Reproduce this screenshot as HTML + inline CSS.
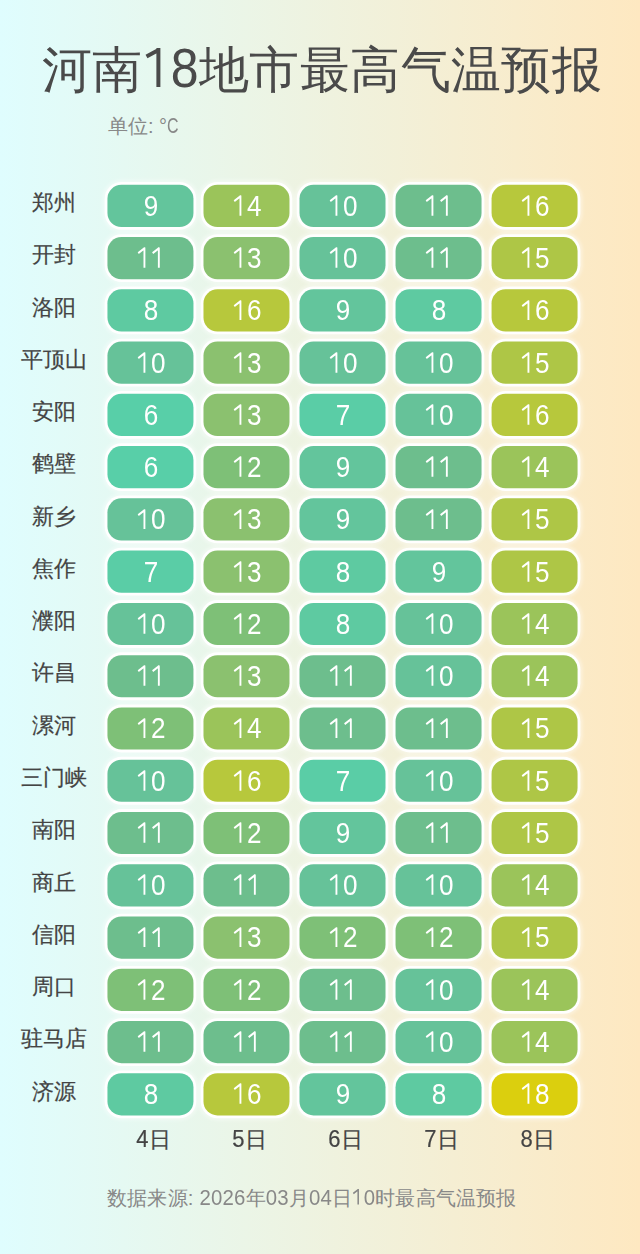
<!DOCTYPE html><html><head><meta charset="utf-8"><style>
html,body{margin:0;padding:0}
body{width:640px;height:1254px;position:relative;overflow:hidden;font-family:"Liberation Sans",sans-serif;
background:linear-gradient(90deg,#dffdfe 0%,#fee8c1 100%)}
.t{position:absolute;white-space:nowrap}
.title{left:2px;width:640px;text-align:center;top:40px;font-size:50px;letter-spacing:0.4px;line-height:60px;color:#4a4a4a}
.sub{left:108px;top:114px;font-size:20px;line-height:24px;color:#888}
.lab{position:absolute;left:4px;width:100px;text-align:center;font-size:21.5px;line-height:24px;color:#444;-webkit-text-stroke:0.2px #444}
.c{position:absolute;box-sizing:border-box;color:#fff;text-align:center;font-size:29px;padding-left:1px}
.n{display:inline-block;transform:scaleX(0.9);transform-origin:50% 50%}
.L{display:inline-block;line-height:1.117em;transform-origin:50% 0.905em}
.one{vertical-align:baseline;display:inline-block}
.day{position:absolute;width:96px;text-align:center;font-size:22px;line-height:24px;color:#444;-webkit-text-stroke:0.2px #444;top:1128px;padding-left:3px}
.foot{left:107px;top:1186px;font-size:20.4px;letter-spacing:0.18px;line-height:24px;color:#888}
</style></head><body>

<svg width="640" height="1254" style="position:absolute;left:0;top:0"><defs><filter id="bl" x="0" y="0" width="640" height="1254" filterUnits="userSpaceOnUse"><feGaussianBlur stdDeviation="1.6"/></filter></defs>
<g filter="url(#bl)" fill="#fff" fill-opacity=".35"><rect x="102.45" y="179.80" width="96.00" height="52.20" rx="19.00"/><rect x="198.48" y="179.80" width="96.00" height="52.20" rx="19.00"/><rect x="294.51" y="179.80" width="96.00" height="52.20" rx="19.00"/><rect x="390.54" y="179.80" width="96.00" height="52.20" rx="19.00"/><rect x="486.57" y="179.80" width="96.00" height="52.20" rx="19.00"/><rect x="102.45" y="232.06" width="96.00" height="52.20" rx="19.00"/><rect x="198.48" y="232.06" width="96.00" height="52.20" rx="19.00"/><rect x="294.51" y="232.06" width="96.00" height="52.20" rx="19.00"/><rect x="390.54" y="232.06" width="96.00" height="52.20" rx="19.00"/><rect x="486.57" y="232.06" width="96.00" height="52.20" rx="19.00"/><rect x="102.45" y="284.32" width="96.00" height="52.20" rx="19.00"/><rect x="198.48" y="284.32" width="96.00" height="52.20" rx="19.00"/><rect x="294.51" y="284.32" width="96.00" height="52.20" rx="19.00"/><rect x="390.54" y="284.32" width="96.00" height="52.20" rx="19.00"/><rect x="486.57" y="284.32" width="96.00" height="52.20" rx="19.00"/><rect x="102.45" y="336.58" width="96.00" height="52.20" rx="19.00"/><rect x="198.48" y="336.58" width="96.00" height="52.20" rx="19.00"/><rect x="294.51" y="336.58" width="96.00" height="52.20" rx="19.00"/><rect x="390.54" y="336.58" width="96.00" height="52.20" rx="19.00"/><rect x="486.57" y="336.58" width="96.00" height="52.20" rx="19.00"/><rect x="102.45" y="388.84" width="96.00" height="52.20" rx="19.00"/><rect x="198.48" y="388.84" width="96.00" height="52.20" rx="19.00"/><rect x="294.51" y="388.84" width="96.00" height="52.20" rx="19.00"/><rect x="390.54" y="388.84" width="96.00" height="52.20" rx="19.00"/><rect x="486.57" y="388.84" width="96.00" height="52.20" rx="19.00"/><rect x="102.45" y="441.10" width="96.00" height="52.20" rx="19.00"/><rect x="198.48" y="441.10" width="96.00" height="52.20" rx="19.00"/><rect x="294.51" y="441.10" width="96.00" height="52.20" rx="19.00"/><rect x="390.54" y="441.10" width="96.00" height="52.20" rx="19.00"/><rect x="486.57" y="441.10" width="96.00" height="52.20" rx="19.00"/><rect x="102.45" y="493.36" width="96.00" height="52.20" rx="19.00"/><rect x="198.48" y="493.36" width="96.00" height="52.20" rx="19.00"/><rect x="294.51" y="493.36" width="96.00" height="52.20" rx="19.00"/><rect x="390.54" y="493.36" width="96.00" height="52.20" rx="19.00"/><rect x="486.57" y="493.36" width="96.00" height="52.20" rx="19.00"/><rect x="102.45" y="545.62" width="96.00" height="52.20" rx="19.00"/><rect x="198.48" y="545.62" width="96.00" height="52.20" rx="19.00"/><rect x="294.51" y="545.62" width="96.00" height="52.20" rx="19.00"/><rect x="390.54" y="545.62" width="96.00" height="52.20" rx="19.00"/><rect x="486.57" y="545.62" width="96.00" height="52.20" rx="19.00"/><rect x="102.45" y="597.88" width="96.00" height="52.20" rx="19.00"/><rect x="198.48" y="597.88" width="96.00" height="52.20" rx="19.00"/><rect x="294.51" y="597.88" width="96.00" height="52.20" rx="19.00"/><rect x="390.54" y="597.88" width="96.00" height="52.20" rx="19.00"/><rect x="486.57" y="597.88" width="96.00" height="52.20" rx="19.00"/><rect x="102.45" y="650.14" width="96.00" height="52.20" rx="19.00"/><rect x="198.48" y="650.14" width="96.00" height="52.20" rx="19.00"/><rect x="294.51" y="650.14" width="96.00" height="52.20" rx="19.00"/><rect x="390.54" y="650.14" width="96.00" height="52.20" rx="19.00"/><rect x="486.57" y="650.14" width="96.00" height="52.20" rx="19.00"/><rect x="102.45" y="702.40" width="96.00" height="52.20" rx="19.00"/><rect x="198.48" y="702.40" width="96.00" height="52.20" rx="19.00"/><rect x="294.51" y="702.40" width="96.00" height="52.20" rx="19.00"/><rect x="390.54" y="702.40" width="96.00" height="52.20" rx="19.00"/><rect x="486.57" y="702.40" width="96.00" height="52.20" rx="19.00"/><rect x="102.45" y="754.66" width="96.00" height="52.20" rx="19.00"/><rect x="198.48" y="754.66" width="96.00" height="52.20" rx="19.00"/><rect x="294.51" y="754.66" width="96.00" height="52.20" rx="19.00"/><rect x="390.54" y="754.66" width="96.00" height="52.20" rx="19.00"/><rect x="486.57" y="754.66" width="96.00" height="52.20" rx="19.00"/><rect x="102.45" y="806.92" width="96.00" height="52.20" rx="19.00"/><rect x="198.48" y="806.92" width="96.00" height="52.20" rx="19.00"/><rect x="294.51" y="806.92" width="96.00" height="52.20" rx="19.00"/><rect x="390.54" y="806.92" width="96.00" height="52.20" rx="19.00"/><rect x="486.57" y="806.92" width="96.00" height="52.20" rx="19.00"/><rect x="102.45" y="859.18" width="96.00" height="52.20" rx="19.00"/><rect x="198.48" y="859.18" width="96.00" height="52.20" rx="19.00"/><rect x="294.51" y="859.18" width="96.00" height="52.20" rx="19.00"/><rect x="390.54" y="859.18" width="96.00" height="52.20" rx="19.00"/><rect x="486.57" y="859.18" width="96.00" height="52.20" rx="19.00"/><rect x="102.45" y="911.44" width="96.00" height="52.20" rx="19.00"/><rect x="198.48" y="911.44" width="96.00" height="52.20" rx="19.00"/><rect x="294.51" y="911.44" width="96.00" height="52.20" rx="19.00"/><rect x="390.54" y="911.44" width="96.00" height="52.20" rx="19.00"/><rect x="486.57" y="911.44" width="96.00" height="52.20" rx="19.00"/><rect x="102.45" y="963.70" width="96.00" height="52.20" rx="19.00"/><rect x="198.48" y="963.70" width="96.00" height="52.20" rx="19.00"/><rect x="294.51" y="963.70" width="96.00" height="52.20" rx="19.00"/><rect x="390.54" y="963.70" width="96.00" height="52.20" rx="19.00"/><rect x="486.57" y="963.70" width="96.00" height="52.20" rx="19.00"/><rect x="102.45" y="1015.96" width="96.00" height="52.20" rx="19.00"/><rect x="198.48" y="1015.96" width="96.00" height="52.20" rx="19.00"/><rect x="294.51" y="1015.96" width="96.00" height="52.20" rx="19.00"/><rect x="390.54" y="1015.96" width="96.00" height="52.20" rx="19.00"/><rect x="486.57" y="1015.96" width="96.00" height="52.20" rx="19.00"/><rect x="102.45" y="1068.22" width="96.00" height="52.20" rx="19.00"/><rect x="198.48" y="1068.22" width="96.00" height="52.20" rx="19.00"/><rect x="294.51" y="1068.22" width="96.00" height="52.20" rx="19.00"/><rect x="390.54" y="1068.22" width="96.00" height="52.20" rx="19.00"/><rect x="486.57" y="1068.22" width="96.00" height="52.20" rx="19.00"/></g>
<rect x="104.65" y="182.00" width="91.60" height="47.80" rx="16.80" fill="#fff" fill-opacity=".95"/><rect x="107.45" y="184.80" width="86.0" height="42.2" rx="14.0" fill="#63c59c"/>
<rect x="200.68" y="182.00" width="91.60" height="47.80" rx="16.80" fill="#fff" fill-opacity=".95"/><rect x="203.48" y="184.80" width="86.0" height="42.2" rx="14.0" fill="#9bc45a"/>
<rect x="296.71" y="182.00" width="91.60" height="47.80" rx="16.80" fill="#fff" fill-opacity=".95"/><rect x="299.51" y="184.80" width="86.0" height="42.2" rx="14.0" fill="#66c299"/>
<rect x="392.74" y="182.00" width="91.60" height="47.80" rx="16.80" fill="#fff" fill-opacity=".95"/><rect x="395.54" y="184.80" width="86.0" height="42.2" rx="14.0" fill="#6dbe8d"/>
<rect x="488.77" y="182.00" width="91.60" height="47.80" rx="16.80" fill="#fff" fill-opacity=".95"/><rect x="491.57" y="184.80" width="86.0" height="42.2" rx="14.0" fill="#b7c83c"/>
<rect x="104.65" y="234.26" width="91.60" height="47.80" rx="16.80" fill="#fff" fill-opacity=".95"/><rect x="107.45" y="237.06" width="86.0" height="42.2" rx="14.0" fill="#6dbe8d"/>
<rect x="200.68" y="234.26" width="91.60" height="47.80" rx="16.80" fill="#fff" fill-opacity=".95"/><rect x="203.48" y="237.06" width="86.0" height="42.2" rx="14.0" fill="#8bc16f"/>
<rect x="296.71" y="234.26" width="91.60" height="47.80" rx="16.80" fill="#fff" fill-opacity=".95"/><rect x="299.51" y="237.06" width="86.0" height="42.2" rx="14.0" fill="#66c299"/>
<rect x="392.74" y="234.26" width="91.60" height="47.80" rx="16.80" fill="#fff" fill-opacity=".95"/><rect x="395.54" y="237.06" width="86.0" height="42.2" rx="14.0" fill="#6dbe8d"/>
<rect x="488.77" y="234.26" width="91.60" height="47.80" rx="16.80" fill="#fff" fill-opacity=".95"/><rect x="491.57" y="237.06" width="86.0" height="42.2" rx="14.0" fill="#aec646"/>
<rect x="104.65" y="286.52" width="91.60" height="47.80" rx="16.80" fill="#fff" fill-opacity=".95"/><rect x="107.45" y="289.32" width="86.0" height="42.2" rx="14.0" fill="#5ecaa1"/>
<rect x="200.68" y="286.52" width="91.60" height="47.80" rx="16.80" fill="#fff" fill-opacity=".95"/><rect x="203.48" y="289.32" width="86.0" height="42.2" rx="14.0" fill="#b7c83c"/>
<rect x="296.71" y="286.52" width="91.60" height="47.80" rx="16.80" fill="#fff" fill-opacity=".95"/><rect x="299.51" y="289.32" width="86.0" height="42.2" rx="14.0" fill="#63c59c"/>
<rect x="392.74" y="286.52" width="91.60" height="47.80" rx="16.80" fill="#fff" fill-opacity=".95"/><rect x="395.54" y="289.32" width="86.0" height="42.2" rx="14.0" fill="#5ecaa1"/>
<rect x="488.77" y="286.52" width="91.60" height="47.80" rx="16.80" fill="#fff" fill-opacity=".95"/><rect x="491.57" y="289.32" width="86.0" height="42.2" rx="14.0" fill="#b7c83c"/>
<rect x="104.65" y="338.78" width="91.60" height="47.80" rx="16.80" fill="#fff" fill-opacity=".95"/><rect x="107.45" y="341.58" width="86.0" height="42.2" rx="14.0" fill="#66c299"/>
<rect x="200.68" y="338.78" width="91.60" height="47.80" rx="16.80" fill="#fff" fill-opacity=".95"/><rect x="203.48" y="341.58" width="86.0" height="42.2" rx="14.0" fill="#8bc16f"/>
<rect x="296.71" y="338.78" width="91.60" height="47.80" rx="16.80" fill="#fff" fill-opacity=".95"/><rect x="299.51" y="341.58" width="86.0" height="42.2" rx="14.0" fill="#66c299"/>
<rect x="392.74" y="338.78" width="91.60" height="47.80" rx="16.80" fill="#fff" fill-opacity=".95"/><rect x="395.54" y="341.58" width="86.0" height="42.2" rx="14.0" fill="#66c299"/>
<rect x="488.77" y="338.78" width="91.60" height="47.80" rx="16.80" fill="#fff" fill-opacity=".95"/><rect x="491.57" y="341.58" width="86.0" height="42.2" rx="14.0" fill="#aec646"/>
<rect x="104.65" y="391.04" width="91.60" height="47.80" rx="16.80" fill="#fff" fill-opacity=".95"/><rect x="107.45" y="393.84" width="86.0" height="42.2" rx="14.0" fill="#58cfa8"/>
<rect x="200.68" y="391.04" width="91.60" height="47.80" rx="16.80" fill="#fff" fill-opacity=".95"/><rect x="203.48" y="393.84" width="86.0" height="42.2" rx="14.0" fill="#8bc16f"/>
<rect x="296.71" y="391.04" width="91.60" height="47.80" rx="16.80" fill="#fff" fill-opacity=".95"/><rect x="299.51" y="393.84" width="86.0" height="42.2" rx="14.0" fill="#5acda6"/>
<rect x="392.74" y="391.04" width="91.60" height="47.80" rx="16.80" fill="#fff" fill-opacity=".95"/><rect x="395.54" y="393.84" width="86.0" height="42.2" rx="14.0" fill="#66c299"/>
<rect x="488.77" y="391.04" width="91.60" height="47.80" rx="16.80" fill="#fff" fill-opacity=".95"/><rect x="491.57" y="393.84" width="86.0" height="42.2" rx="14.0" fill="#b7c83c"/>
<rect x="104.65" y="443.30" width="91.60" height="47.80" rx="16.80" fill="#fff" fill-opacity=".95"/><rect x="107.45" y="446.10" width="86.0" height="42.2" rx="14.0" fill="#58cfa8"/>
<rect x="200.68" y="443.30" width="91.60" height="47.80" rx="16.80" fill="#fff" fill-opacity=".95"/><rect x="203.48" y="446.10" width="86.0" height="42.2" rx="14.0" fill="#7ec077"/>
<rect x="296.71" y="443.30" width="91.60" height="47.80" rx="16.80" fill="#fff" fill-opacity=".95"/><rect x="299.51" y="446.10" width="86.0" height="42.2" rx="14.0" fill="#63c59c"/>
<rect x="392.74" y="443.30" width="91.60" height="47.80" rx="16.80" fill="#fff" fill-opacity=".95"/><rect x="395.54" y="446.10" width="86.0" height="42.2" rx="14.0" fill="#6dbe8d"/>
<rect x="488.77" y="443.30" width="91.60" height="47.80" rx="16.80" fill="#fff" fill-opacity=".95"/><rect x="491.57" y="446.10" width="86.0" height="42.2" rx="14.0" fill="#9bc45a"/>
<rect x="104.65" y="495.56" width="91.60" height="47.80" rx="16.80" fill="#fff" fill-opacity=".95"/><rect x="107.45" y="498.36" width="86.0" height="42.2" rx="14.0" fill="#66c299"/>
<rect x="200.68" y="495.56" width="91.60" height="47.80" rx="16.80" fill="#fff" fill-opacity=".95"/><rect x="203.48" y="498.36" width="86.0" height="42.2" rx="14.0" fill="#8bc16f"/>
<rect x="296.71" y="495.56" width="91.60" height="47.80" rx="16.80" fill="#fff" fill-opacity=".95"/><rect x="299.51" y="498.36" width="86.0" height="42.2" rx="14.0" fill="#63c59c"/>
<rect x="392.74" y="495.56" width="91.60" height="47.80" rx="16.80" fill="#fff" fill-opacity=".95"/><rect x="395.54" y="498.36" width="86.0" height="42.2" rx="14.0" fill="#6dbe8d"/>
<rect x="488.77" y="495.56" width="91.60" height="47.80" rx="16.80" fill="#fff" fill-opacity=".95"/><rect x="491.57" y="498.36" width="86.0" height="42.2" rx="14.0" fill="#aec646"/>
<rect x="104.65" y="547.82" width="91.60" height="47.80" rx="16.80" fill="#fff" fill-opacity=".95"/><rect x="107.45" y="550.62" width="86.0" height="42.2" rx="14.0" fill="#5acda6"/>
<rect x="200.68" y="547.82" width="91.60" height="47.80" rx="16.80" fill="#fff" fill-opacity=".95"/><rect x="203.48" y="550.62" width="86.0" height="42.2" rx="14.0" fill="#8bc16f"/>
<rect x="296.71" y="547.82" width="91.60" height="47.80" rx="16.80" fill="#fff" fill-opacity=".95"/><rect x="299.51" y="550.62" width="86.0" height="42.2" rx="14.0" fill="#5ecaa1"/>
<rect x="392.74" y="547.82" width="91.60" height="47.80" rx="16.80" fill="#fff" fill-opacity=".95"/><rect x="395.54" y="550.62" width="86.0" height="42.2" rx="14.0" fill="#63c59c"/>
<rect x="488.77" y="547.82" width="91.60" height="47.80" rx="16.80" fill="#fff" fill-opacity=".95"/><rect x="491.57" y="550.62" width="86.0" height="42.2" rx="14.0" fill="#aec646"/>
<rect x="104.65" y="600.08" width="91.60" height="47.80" rx="16.80" fill="#fff" fill-opacity=".95"/><rect x="107.45" y="602.88" width="86.0" height="42.2" rx="14.0" fill="#66c299"/>
<rect x="200.68" y="600.08" width="91.60" height="47.80" rx="16.80" fill="#fff" fill-opacity=".95"/><rect x="203.48" y="602.88" width="86.0" height="42.2" rx="14.0" fill="#7ec077"/>
<rect x="296.71" y="600.08" width="91.60" height="47.80" rx="16.80" fill="#fff" fill-opacity=".95"/><rect x="299.51" y="602.88" width="86.0" height="42.2" rx="14.0" fill="#5ecaa1"/>
<rect x="392.74" y="600.08" width="91.60" height="47.80" rx="16.80" fill="#fff" fill-opacity=".95"/><rect x="395.54" y="602.88" width="86.0" height="42.2" rx="14.0" fill="#66c299"/>
<rect x="488.77" y="600.08" width="91.60" height="47.80" rx="16.80" fill="#fff" fill-opacity=".95"/><rect x="491.57" y="602.88" width="86.0" height="42.2" rx="14.0" fill="#9bc45a"/>
<rect x="104.65" y="652.34" width="91.60" height="47.80" rx="16.80" fill="#fff" fill-opacity=".95"/><rect x="107.45" y="655.14" width="86.0" height="42.2" rx="14.0" fill="#6dbe8d"/>
<rect x="200.68" y="652.34" width="91.60" height="47.80" rx="16.80" fill="#fff" fill-opacity=".95"/><rect x="203.48" y="655.14" width="86.0" height="42.2" rx="14.0" fill="#8bc16f"/>
<rect x="296.71" y="652.34" width="91.60" height="47.80" rx="16.80" fill="#fff" fill-opacity=".95"/><rect x="299.51" y="655.14" width="86.0" height="42.2" rx="14.0" fill="#6dbe8d"/>
<rect x="392.74" y="652.34" width="91.60" height="47.80" rx="16.80" fill="#fff" fill-opacity=".95"/><rect x="395.54" y="655.14" width="86.0" height="42.2" rx="14.0" fill="#66c299"/>
<rect x="488.77" y="652.34" width="91.60" height="47.80" rx="16.80" fill="#fff" fill-opacity=".95"/><rect x="491.57" y="655.14" width="86.0" height="42.2" rx="14.0" fill="#9bc45a"/>
<rect x="104.65" y="704.60" width="91.60" height="47.80" rx="16.80" fill="#fff" fill-opacity=".95"/><rect x="107.45" y="707.40" width="86.0" height="42.2" rx="14.0" fill="#7ec077"/>
<rect x="200.68" y="704.60" width="91.60" height="47.80" rx="16.80" fill="#fff" fill-opacity=".95"/><rect x="203.48" y="707.40" width="86.0" height="42.2" rx="14.0" fill="#9bc45a"/>
<rect x="296.71" y="704.60" width="91.60" height="47.80" rx="16.80" fill="#fff" fill-opacity=".95"/><rect x="299.51" y="707.40" width="86.0" height="42.2" rx="14.0" fill="#6dbe8d"/>
<rect x="392.74" y="704.60" width="91.60" height="47.80" rx="16.80" fill="#fff" fill-opacity=".95"/><rect x="395.54" y="707.40" width="86.0" height="42.2" rx="14.0" fill="#6dbe8d"/>
<rect x="488.77" y="704.60" width="91.60" height="47.80" rx="16.80" fill="#fff" fill-opacity=".95"/><rect x="491.57" y="707.40" width="86.0" height="42.2" rx="14.0" fill="#aec646"/>
<rect x="104.65" y="756.86" width="91.60" height="47.80" rx="16.80" fill="#fff" fill-opacity=".95"/><rect x="107.45" y="759.66" width="86.0" height="42.2" rx="14.0" fill="#66c299"/>
<rect x="200.68" y="756.86" width="91.60" height="47.80" rx="16.80" fill="#fff" fill-opacity=".95"/><rect x="203.48" y="759.66" width="86.0" height="42.2" rx="14.0" fill="#b7c83c"/>
<rect x="296.71" y="756.86" width="91.60" height="47.80" rx="16.80" fill="#fff" fill-opacity=".95"/><rect x="299.51" y="759.66" width="86.0" height="42.2" rx="14.0" fill="#5acda6"/>
<rect x="392.74" y="756.86" width="91.60" height="47.80" rx="16.80" fill="#fff" fill-opacity=".95"/><rect x="395.54" y="759.66" width="86.0" height="42.2" rx="14.0" fill="#66c299"/>
<rect x="488.77" y="756.86" width="91.60" height="47.80" rx="16.80" fill="#fff" fill-opacity=".95"/><rect x="491.57" y="759.66" width="86.0" height="42.2" rx="14.0" fill="#aec646"/>
<rect x="104.65" y="809.12" width="91.60" height="47.80" rx="16.80" fill="#fff" fill-opacity=".95"/><rect x="107.45" y="811.92" width="86.0" height="42.2" rx="14.0" fill="#6dbe8d"/>
<rect x="200.68" y="809.12" width="91.60" height="47.80" rx="16.80" fill="#fff" fill-opacity=".95"/><rect x="203.48" y="811.92" width="86.0" height="42.2" rx="14.0" fill="#7ec077"/>
<rect x="296.71" y="809.12" width="91.60" height="47.80" rx="16.80" fill="#fff" fill-opacity=".95"/><rect x="299.51" y="811.92" width="86.0" height="42.2" rx="14.0" fill="#63c59c"/>
<rect x="392.74" y="809.12" width="91.60" height="47.80" rx="16.80" fill="#fff" fill-opacity=".95"/><rect x="395.54" y="811.92" width="86.0" height="42.2" rx="14.0" fill="#6dbe8d"/>
<rect x="488.77" y="809.12" width="91.60" height="47.80" rx="16.80" fill="#fff" fill-opacity=".95"/><rect x="491.57" y="811.92" width="86.0" height="42.2" rx="14.0" fill="#aec646"/>
<rect x="104.65" y="861.38" width="91.60" height="47.80" rx="16.80" fill="#fff" fill-opacity=".95"/><rect x="107.45" y="864.18" width="86.0" height="42.2" rx="14.0" fill="#66c299"/>
<rect x="200.68" y="861.38" width="91.60" height="47.80" rx="16.80" fill="#fff" fill-opacity=".95"/><rect x="203.48" y="864.18" width="86.0" height="42.2" rx="14.0" fill="#6dbe8d"/>
<rect x="296.71" y="861.38" width="91.60" height="47.80" rx="16.80" fill="#fff" fill-opacity=".95"/><rect x="299.51" y="864.18" width="86.0" height="42.2" rx="14.0" fill="#66c299"/>
<rect x="392.74" y="861.38" width="91.60" height="47.80" rx="16.80" fill="#fff" fill-opacity=".95"/><rect x="395.54" y="864.18" width="86.0" height="42.2" rx="14.0" fill="#66c299"/>
<rect x="488.77" y="861.38" width="91.60" height="47.80" rx="16.80" fill="#fff" fill-opacity=".95"/><rect x="491.57" y="864.18" width="86.0" height="42.2" rx="14.0" fill="#9bc45a"/>
<rect x="104.65" y="913.64" width="91.60" height="47.80" rx="16.80" fill="#fff" fill-opacity=".95"/><rect x="107.45" y="916.44" width="86.0" height="42.2" rx="14.0" fill="#6dbe8d"/>
<rect x="200.68" y="913.64" width="91.60" height="47.80" rx="16.80" fill="#fff" fill-opacity=".95"/><rect x="203.48" y="916.44" width="86.0" height="42.2" rx="14.0" fill="#8bc16f"/>
<rect x="296.71" y="913.64" width="91.60" height="47.80" rx="16.80" fill="#fff" fill-opacity=".95"/><rect x="299.51" y="916.44" width="86.0" height="42.2" rx="14.0" fill="#7ec077"/>
<rect x="392.74" y="913.64" width="91.60" height="47.80" rx="16.80" fill="#fff" fill-opacity=".95"/><rect x="395.54" y="916.44" width="86.0" height="42.2" rx="14.0" fill="#7ec077"/>
<rect x="488.77" y="913.64" width="91.60" height="47.80" rx="16.80" fill="#fff" fill-opacity=".95"/><rect x="491.57" y="916.44" width="86.0" height="42.2" rx="14.0" fill="#aec646"/>
<rect x="104.65" y="965.90" width="91.60" height="47.80" rx="16.80" fill="#fff" fill-opacity=".95"/><rect x="107.45" y="968.70" width="86.0" height="42.2" rx="14.0" fill="#7ec077"/>
<rect x="200.68" y="965.90" width="91.60" height="47.80" rx="16.80" fill="#fff" fill-opacity=".95"/><rect x="203.48" y="968.70" width="86.0" height="42.2" rx="14.0" fill="#7ec077"/>
<rect x="296.71" y="965.90" width="91.60" height="47.80" rx="16.80" fill="#fff" fill-opacity=".95"/><rect x="299.51" y="968.70" width="86.0" height="42.2" rx="14.0" fill="#6dbe8d"/>
<rect x="392.74" y="965.90" width="91.60" height="47.80" rx="16.80" fill="#fff" fill-opacity=".95"/><rect x="395.54" y="968.70" width="86.0" height="42.2" rx="14.0" fill="#66c299"/>
<rect x="488.77" y="965.90" width="91.60" height="47.80" rx="16.80" fill="#fff" fill-opacity=".95"/><rect x="491.57" y="968.70" width="86.0" height="42.2" rx="14.0" fill="#9bc45a"/>
<rect x="104.65" y="1018.16" width="91.60" height="47.80" rx="16.80" fill="#fff" fill-opacity=".95"/><rect x="107.45" y="1020.96" width="86.0" height="42.2" rx="14.0" fill="#6dbe8d"/>
<rect x="200.68" y="1018.16" width="91.60" height="47.80" rx="16.80" fill="#fff" fill-opacity=".95"/><rect x="203.48" y="1020.96" width="86.0" height="42.2" rx="14.0" fill="#6dbe8d"/>
<rect x="296.71" y="1018.16" width="91.60" height="47.80" rx="16.80" fill="#fff" fill-opacity=".95"/><rect x="299.51" y="1020.96" width="86.0" height="42.2" rx="14.0" fill="#6dbe8d"/>
<rect x="392.74" y="1018.16" width="91.60" height="47.80" rx="16.80" fill="#fff" fill-opacity=".95"/><rect x="395.54" y="1020.96" width="86.0" height="42.2" rx="14.0" fill="#66c299"/>
<rect x="488.77" y="1018.16" width="91.60" height="47.80" rx="16.80" fill="#fff" fill-opacity=".95"/><rect x="491.57" y="1020.96" width="86.0" height="42.2" rx="14.0" fill="#9bc45a"/>
<rect x="104.65" y="1070.42" width="91.60" height="47.80" rx="16.80" fill="#fff" fill-opacity=".95"/><rect x="107.45" y="1073.22" width="86.0" height="42.2" rx="14.0" fill="#5ecaa1"/>
<rect x="200.68" y="1070.42" width="91.60" height="47.80" rx="16.80" fill="#fff" fill-opacity=".95"/><rect x="203.48" y="1073.22" width="86.0" height="42.2" rx="14.0" fill="#b7c83c"/>
<rect x="296.71" y="1070.42" width="91.60" height="47.80" rx="16.80" fill="#fff" fill-opacity=".95"/><rect x="299.51" y="1073.22" width="86.0" height="42.2" rx="14.0" fill="#63c59c"/>
<rect x="392.74" y="1070.42" width="91.60" height="47.80" rx="16.80" fill="#fff" fill-opacity=".95"/><rect x="395.54" y="1073.22" width="86.0" height="42.2" rx="14.0" fill="#5ecaa1"/>
<rect x="488.77" y="1070.42" width="91.60" height="47.80" rx="16.80" fill="#fff" fill-opacity=".95"/><rect x="491.57" y="1073.22" width="86.0" height="42.2" rx="14.0" fill="#dbcf0e"/>
</svg>
<div class="t title">河南<svg width="28.2" height="39" viewBox="0 0 28.2 39" style="vertical-align:baseline"><path d="M15.4 0V39M16 1.8L3.5 8.6" stroke="#4a4a4a" stroke-width="4" fill="none"/></svg><span class="L" style="transform:scaleY(1.11)">8</span>地市最高气温预报</div>
<div class="t sub">单位: °<span class="L" style="transform:scale(0.8,1.1);transform-origin:0 0.905em;margin-left:-0.5px">C</span></div>
<div class="lab" style="top:191.03px">郑州</div>
<div class="c" style="left:107.45px;top:184.80px;width:86.0px;height:42.2px;line-height:42.20px"><span class="n">9</span></div>
<div class="c" style="left:203.48px;top:184.80px;width:86.0px;height:42.2px;line-height:42.20px"><span class="n"><svg class="one" width="16.12" height="20.8" viewBox="0 0 16.12 20.8"><path d="M8.7 0.4V20.8M9.3 0.9L1.8 6.2" stroke="#fff" stroke-width="2.1" fill="none"/></svg>4</span></div>
<div class="c" style="left:299.51px;top:184.80px;width:86.0px;height:42.2px;line-height:42.20px"><span class="n"><svg class="one" width="16.12" height="20.8" viewBox="0 0 16.12 20.8"><path d="M8.7 0.4V20.8M9.3 0.9L1.8 6.2" stroke="#fff" stroke-width="2.1" fill="none"/></svg>0</span></div>
<div class="c" style="left:395.54px;top:184.80px;width:86.0px;height:42.2px;line-height:42.20px"><span class="n"><svg class="one" width="16.12" height="20.8" viewBox="0 0 16.12 20.8"><path d="M8.7 0.4V20.8M9.3 0.9L1.8 6.2" stroke="#fff" stroke-width="2.1" fill="none"/></svg><svg class="one" width="16.12" height="20.8" viewBox="0 0 16.12 20.8"><path d="M8.7 0.4V20.8M9.3 0.9L1.8 6.2" stroke="#fff" stroke-width="2.1" fill="none"/></svg></span></div>
<div class="c" style="left:491.57px;top:184.80px;width:86.0px;height:42.2px;line-height:42.20px"><span class="n"><svg class="one" width="16.12" height="20.8" viewBox="0 0 16.12 20.8"><path d="M8.7 0.4V20.8M9.3 0.9L1.8 6.2" stroke="#fff" stroke-width="2.1" fill="none"/></svg>6</span></div>
<div class="lab" style="top:243.31px">开封</div>
<div class="c" style="left:107.45px;top:237.06px;width:86.0px;height:42.2px;line-height:42.20px"><span class="n"><svg class="one" width="16.12" height="20.8" viewBox="0 0 16.12 20.8"><path d="M8.7 0.4V20.8M9.3 0.9L1.8 6.2" stroke="#fff" stroke-width="2.1" fill="none"/></svg><svg class="one" width="16.12" height="20.8" viewBox="0 0 16.12 20.8"><path d="M8.7 0.4V20.8M9.3 0.9L1.8 6.2" stroke="#fff" stroke-width="2.1" fill="none"/></svg></span></div>
<div class="c" style="left:203.48px;top:237.06px;width:86.0px;height:42.2px;line-height:42.20px"><span class="n"><svg class="one" width="16.12" height="20.8" viewBox="0 0 16.12 20.8"><path d="M8.7 0.4V20.8M9.3 0.9L1.8 6.2" stroke="#fff" stroke-width="2.1" fill="none"/></svg>3</span></div>
<div class="c" style="left:299.51px;top:237.06px;width:86.0px;height:42.2px;line-height:42.20px"><span class="n"><svg class="one" width="16.12" height="20.8" viewBox="0 0 16.12 20.8"><path d="M8.7 0.4V20.8M9.3 0.9L1.8 6.2" stroke="#fff" stroke-width="2.1" fill="none"/></svg>0</span></div>
<div class="c" style="left:395.54px;top:237.06px;width:86.0px;height:42.2px;line-height:42.20px"><span class="n"><svg class="one" width="16.12" height="20.8" viewBox="0 0 16.12 20.8"><path d="M8.7 0.4V20.8M9.3 0.9L1.8 6.2" stroke="#fff" stroke-width="2.1" fill="none"/></svg><svg class="one" width="16.12" height="20.8" viewBox="0 0 16.12 20.8"><path d="M8.7 0.4V20.8M9.3 0.9L1.8 6.2" stroke="#fff" stroke-width="2.1" fill="none"/></svg></span></div>
<div class="c" style="left:491.57px;top:237.06px;width:86.0px;height:42.2px;line-height:42.20px"><span class="n"><svg class="one" width="16.12" height="20.8" viewBox="0 0 16.12 20.8"><path d="M8.7 0.4V20.8M9.3 0.9L1.8 6.2" stroke="#fff" stroke-width="2.1" fill="none"/></svg>5</span></div>
<div class="lab" style="top:295.57px">洛阳</div>
<div class="c" style="left:107.45px;top:289.32px;width:86.0px;height:42.2px;line-height:42.20px"><span class="n">8</span></div>
<div class="c" style="left:203.48px;top:289.32px;width:86.0px;height:42.2px;line-height:42.20px"><span class="n"><svg class="one" width="16.12" height="20.8" viewBox="0 0 16.12 20.8"><path d="M8.7 0.4V20.8M9.3 0.9L1.8 6.2" stroke="#fff" stroke-width="2.1" fill="none"/></svg>6</span></div>
<div class="c" style="left:299.51px;top:289.32px;width:86.0px;height:42.2px;line-height:42.20px"><span class="n">9</span></div>
<div class="c" style="left:395.54px;top:289.32px;width:86.0px;height:42.2px;line-height:42.20px"><span class="n">8</span></div>
<div class="c" style="left:491.57px;top:289.32px;width:86.0px;height:42.2px;line-height:42.20px"><span class="n"><svg class="one" width="16.12" height="20.8" viewBox="0 0 16.12 20.8"><path d="M8.7 0.4V20.8M9.3 0.9L1.8 6.2" stroke="#fff" stroke-width="2.1" fill="none"/></svg>6</span></div>
<div class="lab" style="top:347.85px">平顶山</div>
<div class="c" style="left:107.45px;top:341.58px;width:86.0px;height:42.2px;line-height:42.20px"><span class="n"><svg class="one" width="16.12" height="20.8" viewBox="0 0 16.12 20.8"><path d="M8.7 0.4V20.8M9.3 0.9L1.8 6.2" stroke="#fff" stroke-width="2.1" fill="none"/></svg>0</span></div>
<div class="c" style="left:203.48px;top:341.58px;width:86.0px;height:42.2px;line-height:42.20px"><span class="n"><svg class="one" width="16.12" height="20.8" viewBox="0 0 16.12 20.8"><path d="M8.7 0.4V20.8M9.3 0.9L1.8 6.2" stroke="#fff" stroke-width="2.1" fill="none"/></svg>3</span></div>
<div class="c" style="left:299.51px;top:341.58px;width:86.0px;height:42.2px;line-height:42.20px"><span class="n"><svg class="one" width="16.12" height="20.8" viewBox="0 0 16.12 20.8"><path d="M8.7 0.4V20.8M9.3 0.9L1.8 6.2" stroke="#fff" stroke-width="2.1" fill="none"/></svg>0</span></div>
<div class="c" style="left:395.54px;top:341.58px;width:86.0px;height:42.2px;line-height:42.20px"><span class="n"><svg class="one" width="16.12" height="20.8" viewBox="0 0 16.12 20.8"><path d="M8.7 0.4V20.8M9.3 0.9L1.8 6.2" stroke="#fff" stroke-width="2.1" fill="none"/></svg>0</span></div>
<div class="c" style="left:491.57px;top:341.58px;width:86.0px;height:42.2px;line-height:42.20px"><span class="n"><svg class="one" width="16.12" height="20.8" viewBox="0 0 16.12 20.8"><path d="M8.7 0.4V20.8M9.3 0.9L1.8 6.2" stroke="#fff" stroke-width="2.1" fill="none"/></svg>5</span></div>
<div class="lab" style="top:400.12px">安阳</div>
<div class="c" style="left:107.45px;top:393.84px;width:86.0px;height:42.2px;line-height:42.20px"><span class="n">6</span></div>
<div class="c" style="left:203.48px;top:393.84px;width:86.0px;height:42.2px;line-height:42.20px"><span class="n"><svg class="one" width="16.12" height="20.8" viewBox="0 0 16.12 20.8"><path d="M8.7 0.4V20.8M9.3 0.9L1.8 6.2" stroke="#fff" stroke-width="2.1" fill="none"/></svg>3</span></div>
<div class="c" style="left:299.51px;top:393.84px;width:86.0px;height:42.2px;line-height:42.20px"><span class="n">7</span></div>
<div class="c" style="left:395.54px;top:393.84px;width:86.0px;height:42.2px;line-height:42.20px"><span class="n"><svg class="one" width="16.12" height="20.8" viewBox="0 0 16.12 20.8"><path d="M8.7 0.4V20.8M9.3 0.9L1.8 6.2" stroke="#fff" stroke-width="2.1" fill="none"/></svg>0</span></div>
<div class="c" style="left:491.57px;top:393.84px;width:86.0px;height:42.2px;line-height:42.20px"><span class="n"><svg class="one" width="16.12" height="20.8" viewBox="0 0 16.12 20.8"><path d="M8.7 0.4V20.8M9.3 0.9L1.8 6.2" stroke="#fff" stroke-width="2.1" fill="none"/></svg>6</span></div>
<div class="lab" style="top:452.38px">鹤壁</div>
<div class="c" style="left:107.45px;top:446.10px;width:86.0px;height:42.2px;line-height:42.20px"><span class="n">6</span></div>
<div class="c" style="left:203.48px;top:446.10px;width:86.0px;height:42.2px;line-height:42.20px"><span class="n"><svg class="one" width="16.12" height="20.8" viewBox="0 0 16.12 20.8"><path d="M8.7 0.4V20.8M9.3 0.9L1.8 6.2" stroke="#fff" stroke-width="2.1" fill="none"/></svg>2</span></div>
<div class="c" style="left:299.51px;top:446.10px;width:86.0px;height:42.2px;line-height:42.20px"><span class="n">9</span></div>
<div class="c" style="left:395.54px;top:446.10px;width:86.0px;height:42.2px;line-height:42.20px"><span class="n"><svg class="one" width="16.12" height="20.8" viewBox="0 0 16.12 20.8"><path d="M8.7 0.4V20.8M9.3 0.9L1.8 6.2" stroke="#fff" stroke-width="2.1" fill="none"/></svg><svg class="one" width="16.12" height="20.8" viewBox="0 0 16.12 20.8"><path d="M8.7 0.4V20.8M9.3 0.9L1.8 6.2" stroke="#fff" stroke-width="2.1" fill="none"/></svg></span></div>
<div class="c" style="left:491.57px;top:446.10px;width:86.0px;height:42.2px;line-height:42.20px"><span class="n"><svg class="one" width="16.12" height="20.8" viewBox="0 0 16.12 20.8"><path d="M8.7 0.4V20.8M9.3 0.9L1.8 6.2" stroke="#fff" stroke-width="2.1" fill="none"/></svg>4</span></div>
<div class="lab" style="top:504.65px">新乡</div>
<div class="c" style="left:107.45px;top:498.36px;width:86.0px;height:42.2px;line-height:42.20px"><span class="n"><svg class="one" width="16.12" height="20.8" viewBox="0 0 16.12 20.8"><path d="M8.7 0.4V20.8M9.3 0.9L1.8 6.2" stroke="#fff" stroke-width="2.1" fill="none"/></svg>0</span></div>
<div class="c" style="left:203.48px;top:498.36px;width:86.0px;height:42.2px;line-height:42.20px"><span class="n"><svg class="one" width="16.12" height="20.8" viewBox="0 0 16.12 20.8"><path d="M8.7 0.4V20.8M9.3 0.9L1.8 6.2" stroke="#fff" stroke-width="2.1" fill="none"/></svg>3</span></div>
<div class="c" style="left:299.51px;top:498.36px;width:86.0px;height:42.2px;line-height:42.20px"><span class="n">9</span></div>
<div class="c" style="left:395.54px;top:498.36px;width:86.0px;height:42.2px;line-height:42.20px"><span class="n"><svg class="one" width="16.12" height="20.8" viewBox="0 0 16.12 20.8"><path d="M8.7 0.4V20.8M9.3 0.9L1.8 6.2" stroke="#fff" stroke-width="2.1" fill="none"/></svg><svg class="one" width="16.12" height="20.8" viewBox="0 0 16.12 20.8"><path d="M8.7 0.4V20.8M9.3 0.9L1.8 6.2" stroke="#fff" stroke-width="2.1" fill="none"/></svg></span></div>
<div class="c" style="left:491.57px;top:498.36px;width:86.0px;height:42.2px;line-height:42.20px"><span class="n"><svg class="one" width="16.12" height="20.8" viewBox="0 0 16.12 20.8"><path d="M8.7 0.4V20.8M9.3 0.9L1.8 6.2" stroke="#fff" stroke-width="2.1" fill="none"/></svg>5</span></div>
<div class="lab" style="top:556.93px">焦作</div>
<div class="c" style="left:107.45px;top:550.62px;width:86.0px;height:42.2px;line-height:42.20px"><span class="n">7</span></div>
<div class="c" style="left:203.48px;top:550.62px;width:86.0px;height:42.2px;line-height:42.20px"><span class="n"><svg class="one" width="16.12" height="20.8" viewBox="0 0 16.12 20.8"><path d="M8.7 0.4V20.8M9.3 0.9L1.8 6.2" stroke="#fff" stroke-width="2.1" fill="none"/></svg>3</span></div>
<div class="c" style="left:299.51px;top:550.62px;width:86.0px;height:42.2px;line-height:42.20px"><span class="n">8</span></div>
<div class="c" style="left:395.54px;top:550.62px;width:86.0px;height:42.2px;line-height:42.20px"><span class="n">9</span></div>
<div class="c" style="left:491.57px;top:550.62px;width:86.0px;height:42.2px;line-height:42.20px"><span class="n"><svg class="one" width="16.12" height="20.8" viewBox="0 0 16.12 20.8"><path d="M8.7 0.4V20.8M9.3 0.9L1.8 6.2" stroke="#fff" stroke-width="2.1" fill="none"/></svg>5</span></div>
<div class="lab" style="top:609.20px">濮阳</div>
<div class="c" style="left:107.45px;top:602.88px;width:86.0px;height:42.2px;line-height:42.20px"><span class="n"><svg class="one" width="16.12" height="20.8" viewBox="0 0 16.12 20.8"><path d="M8.7 0.4V20.8M9.3 0.9L1.8 6.2" stroke="#fff" stroke-width="2.1" fill="none"/></svg>0</span></div>
<div class="c" style="left:203.48px;top:602.88px;width:86.0px;height:42.2px;line-height:42.20px"><span class="n"><svg class="one" width="16.12" height="20.8" viewBox="0 0 16.12 20.8"><path d="M8.7 0.4V20.8M9.3 0.9L1.8 6.2" stroke="#fff" stroke-width="2.1" fill="none"/></svg>2</span></div>
<div class="c" style="left:299.51px;top:602.88px;width:86.0px;height:42.2px;line-height:42.20px"><span class="n">8</span></div>
<div class="c" style="left:395.54px;top:602.88px;width:86.0px;height:42.2px;line-height:42.20px"><span class="n"><svg class="one" width="16.12" height="20.8" viewBox="0 0 16.12 20.8"><path d="M8.7 0.4V20.8M9.3 0.9L1.8 6.2" stroke="#fff" stroke-width="2.1" fill="none"/></svg>0</span></div>
<div class="c" style="left:491.57px;top:602.88px;width:86.0px;height:42.2px;line-height:42.20px"><span class="n"><svg class="one" width="16.12" height="20.8" viewBox="0 0 16.12 20.8"><path d="M8.7 0.4V20.8M9.3 0.9L1.8 6.2" stroke="#fff" stroke-width="2.1" fill="none"/></svg>4</span></div>
<div class="lab" style="top:661.47px">许昌</div>
<div class="c" style="left:107.45px;top:655.14px;width:86.0px;height:42.2px;line-height:42.20px"><span class="n"><svg class="one" width="16.12" height="20.8" viewBox="0 0 16.12 20.8"><path d="M8.7 0.4V20.8M9.3 0.9L1.8 6.2" stroke="#fff" stroke-width="2.1" fill="none"/></svg><svg class="one" width="16.12" height="20.8" viewBox="0 0 16.12 20.8"><path d="M8.7 0.4V20.8M9.3 0.9L1.8 6.2" stroke="#fff" stroke-width="2.1" fill="none"/></svg></span></div>
<div class="c" style="left:203.48px;top:655.14px;width:86.0px;height:42.2px;line-height:42.20px"><span class="n"><svg class="one" width="16.12" height="20.8" viewBox="0 0 16.12 20.8"><path d="M8.7 0.4V20.8M9.3 0.9L1.8 6.2" stroke="#fff" stroke-width="2.1" fill="none"/></svg>3</span></div>
<div class="c" style="left:299.51px;top:655.14px;width:86.0px;height:42.2px;line-height:42.20px"><span class="n"><svg class="one" width="16.12" height="20.8" viewBox="0 0 16.12 20.8"><path d="M8.7 0.4V20.8M9.3 0.9L1.8 6.2" stroke="#fff" stroke-width="2.1" fill="none"/></svg><svg class="one" width="16.12" height="20.8" viewBox="0 0 16.12 20.8"><path d="M8.7 0.4V20.8M9.3 0.9L1.8 6.2" stroke="#fff" stroke-width="2.1" fill="none"/></svg></span></div>
<div class="c" style="left:395.54px;top:655.14px;width:86.0px;height:42.2px;line-height:42.20px"><span class="n"><svg class="one" width="16.12" height="20.8" viewBox="0 0 16.12 20.8"><path d="M8.7 0.4V20.8M9.3 0.9L1.8 6.2" stroke="#fff" stroke-width="2.1" fill="none"/></svg>0</span></div>
<div class="c" style="left:491.57px;top:655.14px;width:86.0px;height:42.2px;line-height:42.20px"><span class="n"><svg class="one" width="16.12" height="20.8" viewBox="0 0 16.12 20.8"><path d="M8.7 0.4V20.8M9.3 0.9L1.8 6.2" stroke="#fff" stroke-width="2.1" fill="none"/></svg>4</span></div>
<div class="lab" style="top:713.74px">漯河</div>
<div class="c" style="left:107.45px;top:707.40px;width:86.0px;height:42.2px;line-height:42.20px"><span class="n"><svg class="one" width="16.12" height="20.8" viewBox="0 0 16.12 20.8"><path d="M8.7 0.4V20.8M9.3 0.9L1.8 6.2" stroke="#fff" stroke-width="2.1" fill="none"/></svg>2</span></div>
<div class="c" style="left:203.48px;top:707.40px;width:86.0px;height:42.2px;line-height:42.20px"><span class="n"><svg class="one" width="16.12" height="20.8" viewBox="0 0 16.12 20.8"><path d="M8.7 0.4V20.8M9.3 0.9L1.8 6.2" stroke="#fff" stroke-width="2.1" fill="none"/></svg>4</span></div>
<div class="c" style="left:299.51px;top:707.40px;width:86.0px;height:42.2px;line-height:42.20px"><span class="n"><svg class="one" width="16.12" height="20.8" viewBox="0 0 16.12 20.8"><path d="M8.7 0.4V20.8M9.3 0.9L1.8 6.2" stroke="#fff" stroke-width="2.1" fill="none"/></svg><svg class="one" width="16.12" height="20.8" viewBox="0 0 16.12 20.8"><path d="M8.7 0.4V20.8M9.3 0.9L1.8 6.2" stroke="#fff" stroke-width="2.1" fill="none"/></svg></span></div>
<div class="c" style="left:395.54px;top:707.40px;width:86.0px;height:42.2px;line-height:42.20px"><span class="n"><svg class="one" width="16.12" height="20.8" viewBox="0 0 16.12 20.8"><path d="M8.7 0.4V20.8M9.3 0.9L1.8 6.2" stroke="#fff" stroke-width="2.1" fill="none"/></svg><svg class="one" width="16.12" height="20.8" viewBox="0 0 16.12 20.8"><path d="M8.7 0.4V20.8M9.3 0.9L1.8 6.2" stroke="#fff" stroke-width="2.1" fill="none"/></svg></span></div>
<div class="c" style="left:491.57px;top:707.40px;width:86.0px;height:42.2px;line-height:42.20px"><span class="n"><svg class="one" width="16.12" height="20.8" viewBox="0 0 16.12 20.8"><path d="M8.7 0.4V20.8M9.3 0.9L1.8 6.2" stroke="#fff" stroke-width="2.1" fill="none"/></svg>5</span></div>
<div class="lab" style="top:766.00px">三门峡</div>
<div class="c" style="left:107.45px;top:759.66px;width:86.0px;height:42.2px;line-height:42.20px"><span class="n"><svg class="one" width="16.12" height="20.8" viewBox="0 0 16.12 20.8"><path d="M8.7 0.4V20.8M9.3 0.9L1.8 6.2" stroke="#fff" stroke-width="2.1" fill="none"/></svg>0</span></div>
<div class="c" style="left:203.48px;top:759.66px;width:86.0px;height:42.2px;line-height:42.20px"><span class="n"><svg class="one" width="16.12" height="20.8" viewBox="0 0 16.12 20.8"><path d="M8.7 0.4V20.8M9.3 0.9L1.8 6.2" stroke="#fff" stroke-width="2.1" fill="none"/></svg>6</span></div>
<div class="c" style="left:299.51px;top:759.66px;width:86.0px;height:42.2px;line-height:42.20px"><span class="n">7</span></div>
<div class="c" style="left:395.54px;top:759.66px;width:86.0px;height:42.2px;line-height:42.20px"><span class="n"><svg class="one" width="16.12" height="20.8" viewBox="0 0 16.12 20.8"><path d="M8.7 0.4V20.8M9.3 0.9L1.8 6.2" stroke="#fff" stroke-width="2.1" fill="none"/></svg>0</span></div>
<div class="c" style="left:491.57px;top:759.66px;width:86.0px;height:42.2px;line-height:42.20px"><span class="n"><svg class="one" width="16.12" height="20.8" viewBox="0 0 16.12 20.8"><path d="M8.7 0.4V20.8M9.3 0.9L1.8 6.2" stroke="#fff" stroke-width="2.1" fill="none"/></svg>5</span></div>
<div class="lab" style="top:818.27px">南阳</div>
<div class="c" style="left:107.45px;top:811.92px;width:86.0px;height:42.2px;line-height:42.20px"><span class="n"><svg class="one" width="16.12" height="20.8" viewBox="0 0 16.12 20.8"><path d="M8.7 0.4V20.8M9.3 0.9L1.8 6.2" stroke="#fff" stroke-width="2.1" fill="none"/></svg><svg class="one" width="16.12" height="20.8" viewBox="0 0 16.12 20.8"><path d="M8.7 0.4V20.8M9.3 0.9L1.8 6.2" stroke="#fff" stroke-width="2.1" fill="none"/></svg></span></div>
<div class="c" style="left:203.48px;top:811.92px;width:86.0px;height:42.2px;line-height:42.20px"><span class="n"><svg class="one" width="16.12" height="20.8" viewBox="0 0 16.12 20.8"><path d="M8.7 0.4V20.8M9.3 0.9L1.8 6.2" stroke="#fff" stroke-width="2.1" fill="none"/></svg>2</span></div>
<div class="c" style="left:299.51px;top:811.92px;width:86.0px;height:42.2px;line-height:42.20px"><span class="n">9</span></div>
<div class="c" style="left:395.54px;top:811.92px;width:86.0px;height:42.2px;line-height:42.20px"><span class="n"><svg class="one" width="16.12" height="20.8" viewBox="0 0 16.12 20.8"><path d="M8.7 0.4V20.8M9.3 0.9L1.8 6.2" stroke="#fff" stroke-width="2.1" fill="none"/></svg><svg class="one" width="16.12" height="20.8" viewBox="0 0 16.12 20.8"><path d="M8.7 0.4V20.8M9.3 0.9L1.8 6.2" stroke="#fff" stroke-width="2.1" fill="none"/></svg></span></div>
<div class="c" style="left:491.57px;top:811.92px;width:86.0px;height:42.2px;line-height:42.20px"><span class="n"><svg class="one" width="16.12" height="20.8" viewBox="0 0 16.12 20.8"><path d="M8.7 0.4V20.8M9.3 0.9L1.8 6.2" stroke="#fff" stroke-width="2.1" fill="none"/></svg>5</span></div>
<div class="lab" style="top:870.54px">商丘</div>
<div class="c" style="left:107.45px;top:864.18px;width:86.0px;height:42.2px;line-height:42.20px"><span class="n"><svg class="one" width="16.12" height="20.8" viewBox="0 0 16.12 20.8"><path d="M8.7 0.4V20.8M9.3 0.9L1.8 6.2" stroke="#fff" stroke-width="2.1" fill="none"/></svg>0</span></div>
<div class="c" style="left:203.48px;top:864.18px;width:86.0px;height:42.2px;line-height:42.20px"><span class="n"><svg class="one" width="16.12" height="20.8" viewBox="0 0 16.12 20.8"><path d="M8.7 0.4V20.8M9.3 0.9L1.8 6.2" stroke="#fff" stroke-width="2.1" fill="none"/></svg><svg class="one" width="16.12" height="20.8" viewBox="0 0 16.12 20.8"><path d="M8.7 0.4V20.8M9.3 0.9L1.8 6.2" stroke="#fff" stroke-width="2.1" fill="none"/></svg></span></div>
<div class="c" style="left:299.51px;top:864.18px;width:86.0px;height:42.2px;line-height:42.20px"><span class="n"><svg class="one" width="16.12" height="20.8" viewBox="0 0 16.12 20.8"><path d="M8.7 0.4V20.8M9.3 0.9L1.8 6.2" stroke="#fff" stroke-width="2.1" fill="none"/></svg>0</span></div>
<div class="c" style="left:395.54px;top:864.18px;width:86.0px;height:42.2px;line-height:42.20px"><span class="n"><svg class="one" width="16.12" height="20.8" viewBox="0 0 16.12 20.8"><path d="M8.7 0.4V20.8M9.3 0.9L1.8 6.2" stroke="#fff" stroke-width="2.1" fill="none"/></svg>0</span></div>
<div class="c" style="left:491.57px;top:864.18px;width:86.0px;height:42.2px;line-height:42.20px"><span class="n"><svg class="one" width="16.12" height="20.8" viewBox="0 0 16.12 20.8"><path d="M8.7 0.4V20.8M9.3 0.9L1.8 6.2" stroke="#fff" stroke-width="2.1" fill="none"/></svg>4</span></div>
<div class="lab" style="top:922.82px">信阳</div>
<div class="c" style="left:107.45px;top:916.44px;width:86.0px;height:42.2px;line-height:42.20px"><span class="n"><svg class="one" width="16.12" height="20.8" viewBox="0 0 16.12 20.8"><path d="M8.7 0.4V20.8M9.3 0.9L1.8 6.2" stroke="#fff" stroke-width="2.1" fill="none"/></svg><svg class="one" width="16.12" height="20.8" viewBox="0 0 16.12 20.8"><path d="M8.7 0.4V20.8M9.3 0.9L1.8 6.2" stroke="#fff" stroke-width="2.1" fill="none"/></svg></span></div>
<div class="c" style="left:203.48px;top:916.44px;width:86.0px;height:42.2px;line-height:42.20px"><span class="n"><svg class="one" width="16.12" height="20.8" viewBox="0 0 16.12 20.8"><path d="M8.7 0.4V20.8M9.3 0.9L1.8 6.2" stroke="#fff" stroke-width="2.1" fill="none"/></svg>3</span></div>
<div class="c" style="left:299.51px;top:916.44px;width:86.0px;height:42.2px;line-height:42.20px"><span class="n"><svg class="one" width="16.12" height="20.8" viewBox="0 0 16.12 20.8"><path d="M8.7 0.4V20.8M9.3 0.9L1.8 6.2" stroke="#fff" stroke-width="2.1" fill="none"/></svg>2</span></div>
<div class="c" style="left:395.54px;top:916.44px;width:86.0px;height:42.2px;line-height:42.20px"><span class="n"><svg class="one" width="16.12" height="20.8" viewBox="0 0 16.12 20.8"><path d="M8.7 0.4V20.8M9.3 0.9L1.8 6.2" stroke="#fff" stroke-width="2.1" fill="none"/></svg>2</span></div>
<div class="c" style="left:491.57px;top:916.44px;width:86.0px;height:42.2px;line-height:42.20px"><span class="n"><svg class="one" width="16.12" height="20.8" viewBox="0 0 16.12 20.8"><path d="M8.7 0.4V20.8M9.3 0.9L1.8 6.2" stroke="#fff" stroke-width="2.1" fill="none"/></svg>5</span></div>
<div class="lab" style="top:975.09px">周口</div>
<div class="c" style="left:107.45px;top:968.70px;width:86.0px;height:42.2px;line-height:42.20px"><span class="n"><svg class="one" width="16.12" height="20.8" viewBox="0 0 16.12 20.8"><path d="M8.7 0.4V20.8M9.3 0.9L1.8 6.2" stroke="#fff" stroke-width="2.1" fill="none"/></svg>2</span></div>
<div class="c" style="left:203.48px;top:968.70px;width:86.0px;height:42.2px;line-height:42.20px"><span class="n"><svg class="one" width="16.12" height="20.8" viewBox="0 0 16.12 20.8"><path d="M8.7 0.4V20.8M9.3 0.9L1.8 6.2" stroke="#fff" stroke-width="2.1" fill="none"/></svg>2</span></div>
<div class="c" style="left:299.51px;top:968.70px;width:86.0px;height:42.2px;line-height:42.20px"><span class="n"><svg class="one" width="16.12" height="20.8" viewBox="0 0 16.12 20.8"><path d="M8.7 0.4V20.8M9.3 0.9L1.8 6.2" stroke="#fff" stroke-width="2.1" fill="none"/></svg><svg class="one" width="16.12" height="20.8" viewBox="0 0 16.12 20.8"><path d="M8.7 0.4V20.8M9.3 0.9L1.8 6.2" stroke="#fff" stroke-width="2.1" fill="none"/></svg></span></div>
<div class="c" style="left:395.54px;top:968.70px;width:86.0px;height:42.2px;line-height:42.20px"><span class="n"><svg class="one" width="16.12" height="20.8" viewBox="0 0 16.12 20.8"><path d="M8.7 0.4V20.8M9.3 0.9L1.8 6.2" stroke="#fff" stroke-width="2.1" fill="none"/></svg>0</span></div>
<div class="c" style="left:491.57px;top:968.70px;width:86.0px;height:42.2px;line-height:42.20px"><span class="n"><svg class="one" width="16.12" height="20.8" viewBox="0 0 16.12 20.8"><path d="M8.7 0.4V20.8M9.3 0.9L1.8 6.2" stroke="#fff" stroke-width="2.1" fill="none"/></svg>4</span></div>
<div class="lab" style="top:1027.36px">驻马店</div>
<div class="c" style="left:107.45px;top:1020.96px;width:86.0px;height:42.2px;line-height:42.20px"><span class="n"><svg class="one" width="16.12" height="20.8" viewBox="0 0 16.12 20.8"><path d="M8.7 0.4V20.8M9.3 0.9L1.8 6.2" stroke="#fff" stroke-width="2.1" fill="none"/></svg><svg class="one" width="16.12" height="20.8" viewBox="0 0 16.12 20.8"><path d="M8.7 0.4V20.8M9.3 0.9L1.8 6.2" stroke="#fff" stroke-width="2.1" fill="none"/></svg></span></div>
<div class="c" style="left:203.48px;top:1020.96px;width:86.0px;height:42.2px;line-height:42.20px"><span class="n"><svg class="one" width="16.12" height="20.8" viewBox="0 0 16.12 20.8"><path d="M8.7 0.4V20.8M9.3 0.9L1.8 6.2" stroke="#fff" stroke-width="2.1" fill="none"/></svg><svg class="one" width="16.12" height="20.8" viewBox="0 0 16.12 20.8"><path d="M8.7 0.4V20.8M9.3 0.9L1.8 6.2" stroke="#fff" stroke-width="2.1" fill="none"/></svg></span></div>
<div class="c" style="left:299.51px;top:1020.96px;width:86.0px;height:42.2px;line-height:42.20px"><span class="n"><svg class="one" width="16.12" height="20.8" viewBox="0 0 16.12 20.8"><path d="M8.7 0.4V20.8M9.3 0.9L1.8 6.2" stroke="#fff" stroke-width="2.1" fill="none"/></svg><svg class="one" width="16.12" height="20.8" viewBox="0 0 16.12 20.8"><path d="M8.7 0.4V20.8M9.3 0.9L1.8 6.2" stroke="#fff" stroke-width="2.1" fill="none"/></svg></span></div>
<div class="c" style="left:395.54px;top:1020.96px;width:86.0px;height:42.2px;line-height:42.20px"><span class="n"><svg class="one" width="16.12" height="20.8" viewBox="0 0 16.12 20.8"><path d="M8.7 0.4V20.8M9.3 0.9L1.8 6.2" stroke="#fff" stroke-width="2.1" fill="none"/></svg>0</span></div>
<div class="c" style="left:491.57px;top:1020.96px;width:86.0px;height:42.2px;line-height:42.20px"><span class="n"><svg class="one" width="16.12" height="20.8" viewBox="0 0 16.12 20.8"><path d="M8.7 0.4V20.8M9.3 0.9L1.8 6.2" stroke="#fff" stroke-width="2.1" fill="none"/></svg>4</span></div>
<div class="lab" style="top:1079.62px">济源</div>
<div class="c" style="left:107.45px;top:1073.22px;width:86.0px;height:42.2px;line-height:42.20px"><span class="n">8</span></div>
<div class="c" style="left:203.48px;top:1073.22px;width:86.0px;height:42.2px;line-height:42.20px"><span class="n"><svg class="one" width="16.12" height="20.8" viewBox="0 0 16.12 20.8"><path d="M8.7 0.4V20.8M9.3 0.9L1.8 6.2" stroke="#fff" stroke-width="2.1" fill="none"/></svg>6</span></div>
<div class="c" style="left:299.51px;top:1073.22px;width:86.0px;height:42.2px;line-height:42.20px"><span class="n">9</span></div>
<div class="c" style="left:395.54px;top:1073.22px;width:86.0px;height:42.2px;line-height:42.20px"><span class="n">8</span></div>
<div class="c" style="left:491.57px;top:1073.22px;width:86.0px;height:42.2px;line-height:42.20px"><span class="n"><svg class="one" width="16.12" height="20.8" viewBox="0 0 16.12 20.8"><path d="M8.7 0.4V20.8M9.3 0.9L1.8 6.2" stroke="#fff" stroke-width="2.1" fill="none"/></svg>8</span></div>
<div class="day" style="left:102.40px"><span class="L" style="transform:scaleY(1.06)">4</span>日</div>
<div class="day" style="left:198.43px"><span class="L" style="transform:scaleY(1.06)">5</span>日</div>
<div class="day" style="left:294.46px"><span class="L" style="transform:scaleY(1.06)">6</span>日</div>
<div class="day" style="left:390.49px"><span class="L" style="transform:scaleY(1.06)">7</span>日</div>
<div class="day" style="left:486.52px"><span class="L" style="transform:scaleY(1.06)">8</span>日</div>
<div class="t foot">数据来源: <span class="L" style="transform:scaleY(1.08)">2026</span>年<span class="L" style="transform:scaleY(1.08)">03</span>月<span class="L" style="transform:scaleY(1.08)">04</span>日<span class="L" style="transform:scaleY(1.08)"><svg width="11.34" height="14.6" viewBox="0 0 11.34 14.6" style="vertical-align:baseline;margin-right:0.18px"><path d="M6.2 0.3V14.6M6.6 0.6L1.3 4.4" stroke="#888" stroke-width="1.55" fill="none"/></svg>0</span>时最高气温预报</div>
</body></html>
